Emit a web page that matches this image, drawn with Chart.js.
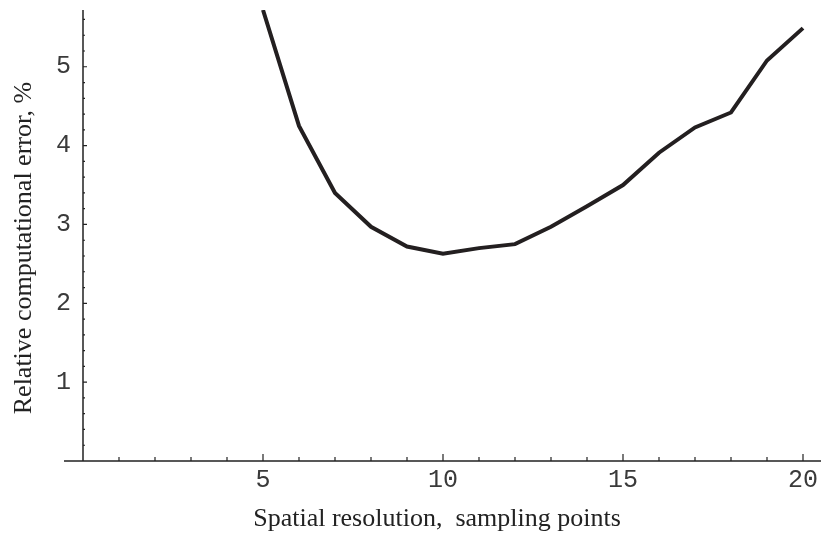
<!DOCTYPE html>
<html>
<head>
<meta charset="utf-8">
<script src="https://cdn.jsdelivr.net/npm/chart.js@4/dist/chart.umd.min.js"></script>
<style>
  html, body { margin: 0; padding: 0; background: #fff; }
  #wrap { width: 823px; height: 537px; }
</style>
</head>
<body>
<div id="wrap"><canvas id="grafico"></canvas></div>
<script>
// pontos de amostragem e erro relativo (%)
const resolucao = [5, 6, 7, 8, 9, 10, 11, 12, 13, 14, 15, 16, 17, 18, 19, 20];
const erro = [5.72, 4.25, 3.40, 2.97, 2.72, 2.63, 2.70, 2.75, 2.97, 3.23, 3.50, 3.91, 4.23, 4.42, 5.08, 5.49];

const xTickLabels = [5, 10, 15, 20];
const yTickLabels = [1, 2, 3, 4, 5];
const xMinorStep = 1;
const yMinorStep = 0.2;

const tituloX = 'Spatial resolution,  sampling points';
const tituloY = 'Relative computational error, %';

const corEixo = '#222';

// eixos com marcas para dentro e títulos, como no original
const eixos = {
    id: 'eixos',
    afterDraw(chart) {
        const ctx = chart.ctx;
        const x = chart.scales.x, y = chart.scales.y;
        const x0 = x.getPixelForValue(0), y0 = y.getPixelForValue(0);
        ctx.save();
        ctx.strokeStyle = corEixo;
        ctx.lineWidth = 1.5;
        ctx.beginPath();
        ctx.moveTo(64, y0); ctx.lineTo(x.right, y0);
        ctx.moveTo(x0, y0); ctx.lineTo(x0, y.top);
        ctx.stroke();
        ctx.lineWidth = 1.2;
        ctx.beginPath();
        for (let v = xMinorStep; v <= x.max; v += xMinorStep) {
            const px = x.getPixelForValue(v);
            const len = xTickLabels.includes(Math.round(v)) ? 7 : 4;
            ctx.moveTo(px, y0); ctx.lineTo(px, y0 - len);
        }
        for (let i = 1; i * yMinorStep <= y.max; i++) {
            const v = i * yMinorStep;
            const py = y.getPixelForValue(v);
            const len = (i % 5 === 0) ? 4 : 2;
            ctx.moveTo(x0, py); ctx.lineTo(x0 + len, py);
        }
        ctx.stroke();

        // títulos dos eixos
        ctx.fillStyle = '#222';
        ctx.font = '26px "Liberation Serif"';
        ctx.textAlign = 'center';
        ctx.textBaseline = 'alphabetic';
        ctx.fillText(tituloX, 437, 526);
        ctx.translate(31, 248);
        ctx.rotate(-Math.PI / 2);
        ctx.fillText(tituloY, 0, 0);
        ctx.restore();
    }
};

const ctxGrafico = document.getElementById('grafico').getContext('2d');
const grafico = new Chart(ctxGrafico, {
    type: 'scatter',
    data: {
        datasets: [{
            data: resolucao.map((r, i) => ({ x: r, y: erro[i] })),
            showLine: true,
            borderColor: '#231f20',
            borderWidth: 4,
            pointRadius: 0,
            tension: 0
        }]
    },
    options: {
        responsive: true,
        maintainAspectRatio: false,
        animation: false,
        layout: { padding: { top: 10, right: 2, left: 0, bottom: 0 } },
        plugins: { legend: { display: false }, tooltip: { enabled: false } },
        scales: {
            x: {
                type: 'linear',
                min: 0,
                max: 20.5,
                grid: { display: false, drawTicks: false },
                border: { display: false },
                afterFit: s => { s.height = 76; s.paddingLeft = 0; s.paddingRight = 0; },
                afterBuildTicks: s => { s.ticks = xTickLabels.map(v => ({ value: v })); },
                ticks: {
                    padding: 4,
                    color: '#3a3a3a',
                    font: { family: 'Liberation Mono', size: 25 }
                }
            },
            y: {
                min: 0,
                max: 5.72,
                grid: { display: false, drawTicks: false },
                border: { display: false },
                afterFit: s => { s.width = 83; s.paddingTop = 0; s.paddingBottom = 0; },
                afterBuildTicks: s => { s.ticks = yTickLabels.map(v => ({ value: v })); },
                ticks: {
                    padding: 12,
                    color: '#3a3a3a',
                    font: { family: 'Liberation Mono', size: 25 }
                }
            }
        }
    },
    plugins: [eixos]
});
</script>
</body>
</html>
